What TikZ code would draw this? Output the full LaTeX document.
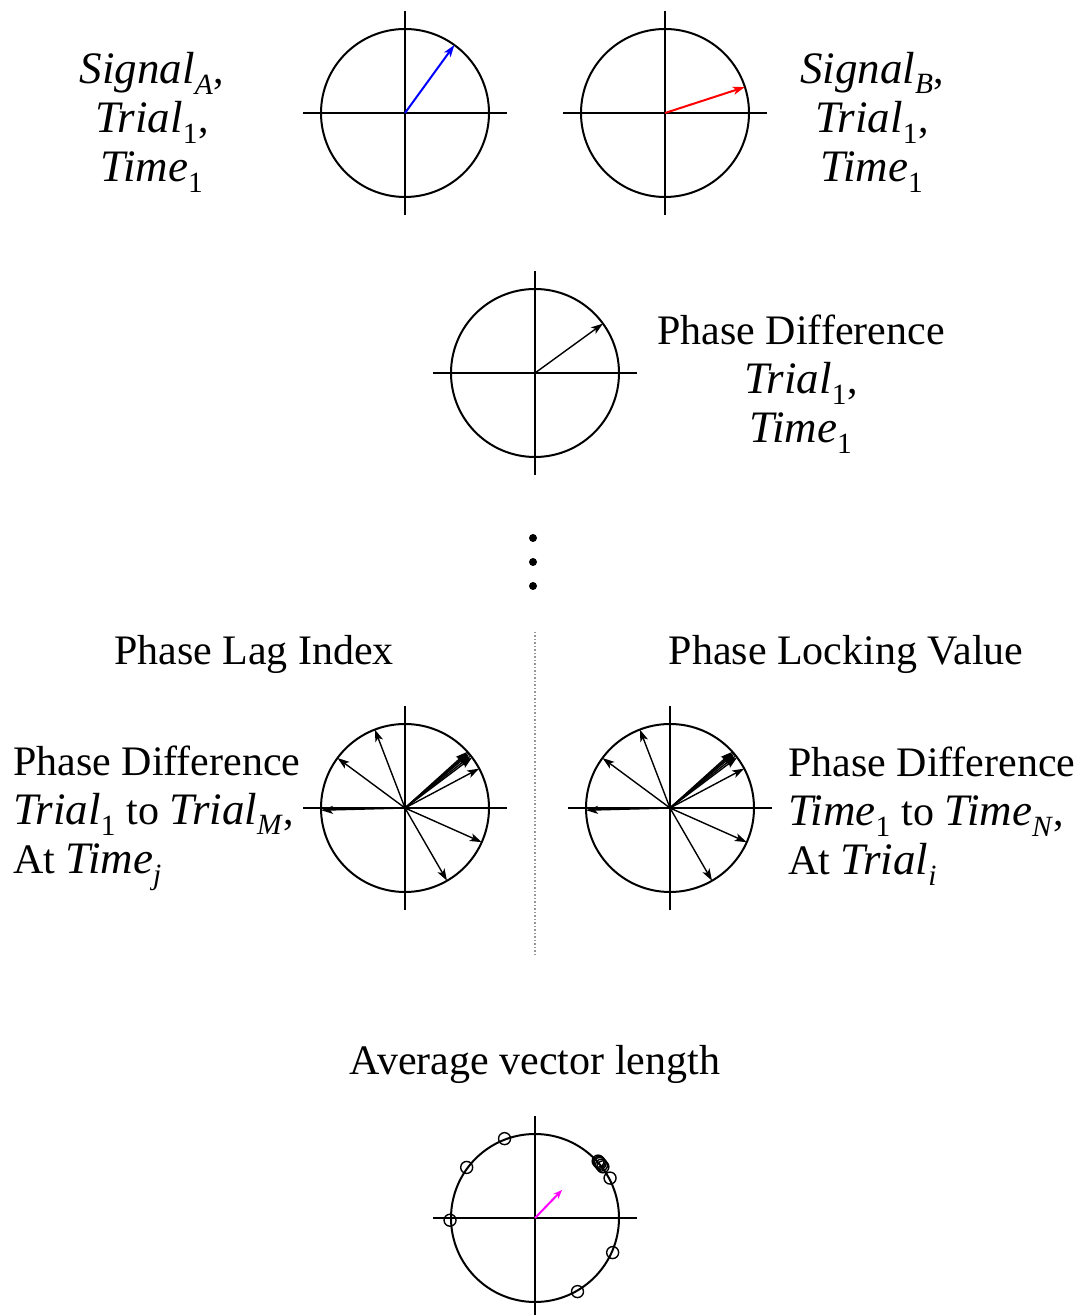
\documentclass[tikz,border=0pt]{standalone}
\usepackage{fontspec}
\setmainfont{Liberation Serif}
\usetikzlibrary{arrows.meta,calc}
\definecolor{phaseBlue}{RGB}{0,0,255}
\definecolor{phaseRed}{RGB}{255,0,0}
\definecolor{meanMagenta}{RGB}{255,0,255}
\definecolor{sepGray}{RGB}{150,150,150}
\tikzset{
  rim/.style={line width=2pt},
  dialaxis/.style={line width=1.6pt},
  phasor/.style={-{Stealth[length=12pt,width=8pt,inset=3pt]}, line width=1.4pt},
  bluephasor/.style={phasor, color=phaseBlue, line width=2pt},
  redphasor/.style={phasor, color=phaseRed, line width=2pt},
  meanphasor/.style={-{Stealth[length=9pt,width=7pt]}, line width=2pt, color=meanMagenta},
  sample/.style={draw, circle, line width=1.4pt, minimum size=12pt, inner sep=0pt},
  dot/.style={fill, circle, minimum size=8pt, inner sep=0pt},
  separator/.style={dotted, line width=1.5pt, color=sepGray},
  txt/.style={align=center, font=\fontsize{42}{49}\selectfont, inner sep=0pt},
  txtleft/.style={txt, align=left, anchor=west}
}
\newcommand{\var}[2]{{\fontsize{45}{49}\selectfont\textit{#1}}\textsubscript{#2}}
\newcommand{\dial}[2]{%
  \coordinate (#1) at (#2);
  \draw[dialaxis] ($(#1)+(-102,0)$) -- ($(#1)+(102,0)$);
  \draw[dialaxis] ($(#1)+(0,-102)$) -- ($(#1)+(0,102)$);
  \draw[rim] (#1) circle[radius=84];
}

\begin{document}
\begin{tikzpicture}[x=1pt, y=1pt]
  \useasboundingbox (0,0) rectangle (1087,1315);

  \dial{sigA}{405,1202}
  \dial{sigB}{665,1202}
  \dial{diff}{535,942}
  \dial{pli}{405,507}
  \dial{plv}{670,507}
  \dial{avg}{535,97}

  \node[txt] (sigA-lbl) at (152,1193) {\var{Signal}{\textit{A}},\\\var{Trial}{1},\\\var{Time}{1}};
  \node[txt] (sigB-lbl) at (872,1193) {\var{Signal}{\textit{B}},\\\var{Trial}{1},\\\var{Time}{1}};
  \node[txt] (diff-lbl) at (801,931) {Phase Difference\\\var{Trial}{1},\\\var{Time}{1}};
  \node[txt] (pli-title) at (254,661) {Phase Lag Index};
  \node[txt] (plv-title) at (846,661) {Phase Locking Value};
  \node[txtleft] (pli-lbl) at (13,497) {Phase Difference\\\var{Trial}{1} to \var{Trial}{\textit{M}},\\At \var{Time}{\textit{j}}};
  \node[txtleft] (plv-lbl) at (788,499) {Phase Difference\\\var{Time}{1} to \var{Time}{\textit{N}},\\At \var{Trial}{\textit{i}}};
  \node[txt] (avg-title) at (535,251) {Average vector length};

  \coordinate (sigA-tip) at ($(sigA)+(54:84)$);
  \coordinate (sigB-tip) at ($(sigB)+(18:84)$);
  \coordinate (diff-tip) at ($(diff)+(36:84)$);
  \draw[bluephasor] (sigA) -- (sigA-tip);
  \draw[redphasor] (sigB) -- (sigB-tip);
  \draw[phasor] (diff) -- (diff-tip);

  \foreach \y [count=\i] in {777,753,729}
    \node[dot] (dots-\i) at (533,\y) {};

  \coordinate (sep-top) at (535,683);
  \coordinate (sep-bot) at (535,358);
  \draw[separator] (sep-top) -- (sep-bot);

  \foreach \a [count=\i] in {111,143.5,181.5,-60,-24,28,37,38.5,40,41,42} {
    \coordinate (pli-\i) at ($(pli)+(\a:84)$);
    \coordinate (plv-\i) at ($(plv)+(\a:84)$);
    \draw[phasor] (pli) -- (pli-\i);
    \draw[phasor] (plv) -- (plv-\i);
    \node[sample] (avg-\i) at ($(avg)+(\a:85)$) {};
  }

  \coordinate (avg-tip) at ($(avg)+(46:39)$);
  \draw[meanphasor] (avg) -- (avg-tip);
\end{tikzpicture}
\end{document}
